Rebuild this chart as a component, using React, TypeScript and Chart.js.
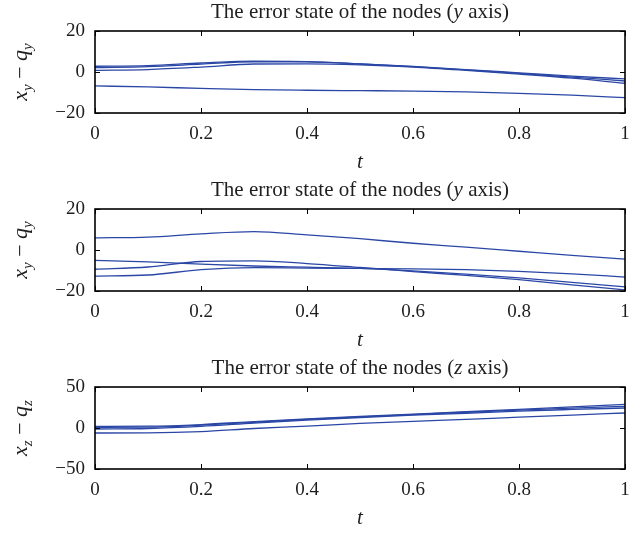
import React, { useEffect, useRef } from "react";
import { Chart, registerables } from "chart.js";

Chart.register(...registerables);

// time samples (t axis)
const T = [0, 0.1, 0.2, 0.3, 0.4, 0.5, 0.6, 0.7, 0.8, 0.9, 1];

// Panel 1: error state, y axis
const P1_A = [2.8, 3.1, 4.4, 5.3, 5.1, 4.0, 2.7, 1.2, -0.4, -2.0, -3.4];
const P1_B = [2.1, 2.6, 3.8, 5.0, 4.9, 3.9, 2.6, 1.0, -0.7, -2.5, -4.4];
const P1_C = [0.8, 1.2, 2.4, 3.9, 4.0, 3.5, 2.4, 0.8, -1.0, -3.0, -5.5];
const P1_D = [-6.8, -7.3, -8.0, -8.6, -8.9, -9.1, -9.3, -9.7, -10.4, -11.3, -12.5];

// Panel 2: error state, y axis
const P2_E = [5.9, 6.3, 7.9, 9.0, 7.4, 5.5, 3.3, 1.4, -0.6, -2.6, -4.5];
const P2_F = [-5.1, -5.8, -6.9, -7.8, -8.4, -9.0, -10.2, -11.8, -13.6, -15.8, -18.0];
const P2_G = [-9.4, -8.3, -5.6, -5.3, -6.6, -8.5, -10.5, -12.4, -14.5, -17.0, -19.5];
const P2_H = [-12.7, -12.2, -9.6, -8.6, -8.8, -9.0, -9.2, -9.6, -10.4, -11.6, -13.2];

// Panel 3: error state, z axis
const P3_I = [2.0, 2.2, 4.2, 7.8, 11.2, 14.2, 17.0, 19.8, 22.8, 25.8, 28.8];
const P3_J = [0.8, 1.0, 3.4, 7.0, 10.4, 13.6, 16.4, 19.2, 21.8, 24.2, 26.4];
const P3_K = [-1.2, -0.6, 2.0, 6.0, 9.6, 12.8, 15.6, 18.0, 20.6, 22.6, 24.4];
const P3_L = [-6.1, -6.0, -4.5, -0.6, 2.2, 5.6, 8.2, 10.5, 13.2, 15.8, 18.3];

// axis ranges / ticks
const X_MIN = 0;
const X_MAX = 1;
const X_STEP = 0.2;
const P1_Y = [-20, 20, 20];
const P2_Y = [-20, 20, 20];
const P3_Y = [-50, 50, 50];

const TITLE_PRE = "The error state of the nodes (";
const TITLE_POST = " axis)";

const LINE_COLOR = "#2B47A6";
const TEXT_COLOR = "#1e1e1e";
const SERIF = "'Liberation Serif', 'Times New Roman', serif";

type PanelDef = {
  letter: string;
  sub: string;
  yRange: number[];
  series: number[][];
  height: number;
};

const PANELS: PanelDef[] = [
  { letter: "y", sub: "y", yRange: P1_Y, series: [P1_A, P1_B, P1_C, P1_D], height: 178 },
  { letter: "y", sub: "y", yRange: P2_Y, series: [P2_E, P2_F, P2_G, P2_H], height: 178 },
  { letter: "z", sub: "z", yRange: P3_Y, series: [P3_I, P3_J, P3_K, P3_L], height: 177 },
];

const decorPlugin = {
  id: "decor",
  afterDraw(chart: any, _args: any, opts: any) {
    const { ctx, chartArea: a, scales } = chart;
    const xs = scales.x;
    const ys = scales.y;
    ctx.save();
    // box
    ctx.strokeStyle = "#000";
    ctx.lineWidth = 1.6;
    ctx.strokeRect(a.left, a.top, a.right - a.left, a.bottom - a.top);
    // inward ticks
    ctx.lineWidth = 1;
    const tl = 5;
    ctx.beginPath();
    xs.ticks.forEach((t: any) => {
      const px = Math.round(xs.getPixelForValue(t.value)) + 0.5;
      ctx.moveTo(px, a.bottom);
      ctx.lineTo(px, a.bottom - tl);
      ctx.moveTo(px, a.top);
      ctx.lineTo(px, a.top + tl);
    });
    ys.ticks.forEach((t: any) => {
      const py = Math.round(ys.getPixelForValue(t.value)) + 0.5;
      ctx.moveTo(a.left, py);
      ctx.lineTo(a.left + tl, py);
      ctx.moveTo(a.right, py);
      ctx.lineTo(a.right - tl, py);
    });
    ctx.stroke();

    ctx.fillStyle = TEXT_COLOR;
    ctx.textBaseline = "alphabetic";
    // title with italic axis letter
    const regular = `21px ${SERIF}`;
    const italic = `italic 21px ${SERIF}`;
    ctx.font = regular;
    const w1 = ctx.measureText(TITLE_PRE).width;
    const w3 = ctx.measureText(TITLE_POST).width;
    ctx.font = italic;
    const w2 = ctx.measureText(opts.letter).width;
    const cx = (a.left + a.right) / 2;
    let x = cx - (w1 + w2 + w3) / 2;
    const ty = a.top - 13;
    ctx.textAlign = "left";
    ctx.font = regular;
    ctx.fillText(TITLE_PRE, x, ty);
    x += w1;
    ctx.font = italic;
    ctx.fillText(opts.letter, x, ty);
    x += w2;
    ctx.font = regular;
    ctx.fillText(TITLE_POST, x, ty);

    // x axis label "t"
    ctx.font = `italic 21px ${SERIF}`;
    ctx.textAlign = "center";
    ctx.fillText("t", cx, a.bottom + 55);

    // y axis label  x_s − q_s  (rotated)
    const big = `italic 22px ${SERIF}`;
    const small = `italic 15px ${SERIF}`;
    const parts: [string, string, number][] = [
      ["x", big, 0],
      [opts.sub, small, 5],
      [" \u2212 ", `22px ${SERIF}`, 0],
      ["q", big, 0],
      [opts.sub, small, 5],
    ];
    let total = 0;
    const widths = parts.map(([s, f]) => {
      ctx.font = f;
      const w = ctx.measureText(s).width;
      total += w;
      return w;
    });
    ctx.translate(27, (a.top + a.bottom) / 2);
    ctx.rotate(-Math.PI / 2);
    ctx.textAlign = "left";
    let px = -total / 2;
    parts.forEach(([s, f, dy], i) => {
      ctx.font = f;
      ctx.fillText(s, px, dy);
      px += widths[i];
    });
    ctx.restore();
  },
};

function Panel({ def }: { def: PanelDef }) {
  const ref = useRef<HTMLCanvasElement | null>(null);
  useEffect(() => {
    if (!ref.current) return;
    const chart = new Chart(ref.current, {
      type: "line",
      data: {
        datasets: def.series.map((s) => ({
          data: s.map((v, i) => ({ x: T[i], y: v })),
          borderColor: LINE_COLOR,
          borderWidth: 1.3,
          pointRadius: 0,
          fill: false,
          cubicInterpolationMode: "monotone" as const,
        })),
      },
      options: {
        responsive: false,
        animation: false,
        devicePixelRatio: 1,
        events: [],
        layout: { padding: { left: 0, right: 18, top: 31, bottom: 0 } },
        plugins: {
          legend: { display: false },
          tooltip: { enabled: false },
          title: { display: false },
          decor: { letter: def.letter, sub: def.sub },
        } as any,
        scales: {
          x: {
            type: "linear",
            min: X_MIN,
            max: X_MAX,
            grid: { display: false, drawTicks: false },
            border: { display: false },
            ticks: {
              stepSize: X_STEP,
              padding: 10,
              color: TEXT_COLOR,
              font: { family: SERIF, size: 19 },
              maxRotation: 0,
              callback: (v: any) => String(Math.round(Number(v) * 10) / 10),
            },
            afterFit: (s: any) => {
              s.height = def.height - 113;
            },
          },
          y: {
            type: "linear",
            min: def.yRange[0],
            max: def.yRange[1],
            grid: { display: false, drawTicks: false },
            border: { display: false },
            ticks: {
              stepSize: def.yRange[2],
              padding: 10,
              color: TEXT_COLOR,
              font: { family: SERIF, size: 19 },
              callback: (v: any) => String(v).replace("-", "\u2212"),
            },
            afterFit: (s: any) => {
              s.width = 95;
            },
          },
        },
      },
      plugins: [decorPlugin],
    });
    return () => chart.destroy();
  }, [def]);
  return (
    <canvas
      ref={ref}
      width={643}
      height={def.height}
      style={{ display: "block", width: 643, height: def.height }}
    />
  );
}

export default function App() {
  return (
    <div style={{ position: "absolute", left: 0, top: 0, width: 643, height: 533, background: "#fff" }}>
      {PANELS.map((p, i) => (
        <Panel key={i} def={p} />
      ))}
    </div>
  );
}
